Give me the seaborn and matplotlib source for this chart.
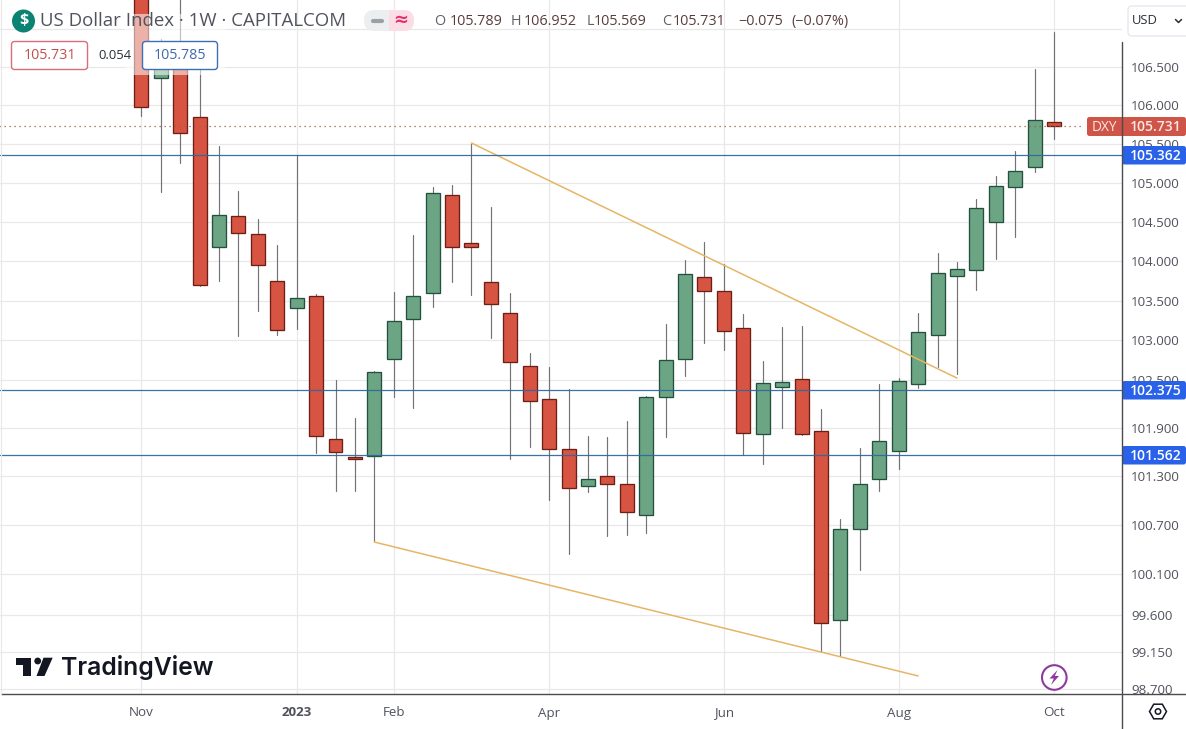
import numpy as np
import pandas as pd
import matplotlib
matplotlib.use("Agg")
import matplotlib.pyplot as plt
from matplotlib.lines import Line2D
from matplotlib.patches import FancyBboxPatch, Polygon, Circle, Rectangle
import seaborn as sns

# weekly candles
opens = [107.60, 106.36, 106.66, 105.848, 104.178, 104.573, 104.344, 103.745, 103.404, 103.556,
         101.759, 101.536, 101.553, 102.761, 103.266, 103.594, 104.843, 104.229, 103.733, 103.341,
         102.673, 102.259, 101.636, 101.178, 101.301, 101.202, 100.820, 102.284, 102.761, 103.796,
         103.619, 103.152, 101.823, 102.410, 102.510, 101.860, 99.533, 100.647, 101.264, 101.611,
         102.447, 103.064, 103.809, 103.885, 104.497, 104.946, 105.202, 105.789]
closes = [105.98, 106.66, 105.645, 103.695, 104.586, 104.356, 103.949, 103.127, 103.530, 101.796,
          101.598, 101.512, 102.598, 103.241, 103.556, 104.868, 104.178, 104.185, 103.455, 102.724,
          102.234, 101.636, 101.153, 101.264, 101.202, 100.857, 102.284, 102.749, 103.834, 103.619,
          103.115, 101.835, 102.460, 102.472, 101.823, 99.496, 100.647, 101.202, 101.735, 102.484,
          103.102, 103.847, 103.898, 104.676, 104.958, 105.151, 105.809, 105.731]
highs = [108.2, 106.87, 107.51, 106.592, 105.477, 104.898, 104.535, 104.207, 105.361, 103.581,
         102.502, 102.021, 102.614, 103.611, 104.335, 104.950, 104.976, 105.499, 104.689, 103.598,
         102.836, 102.664, 102.388, 101.801, 101.789, 101.988, 102.300, 103.207, 104.016, 104.242,
         103.961, 103.329, 102.736, 103.165, 103.177, 102.134, 100.770, 101.648, 102.447, 102.522,
         103.341, 104.101, 103.987, 104.791, 105.086, 105.408, 106.470, 106.952]
lows = [105.862, 104.89, 105.257, 103.69, 103.753, 103.059, 103.374, 103.072, 103.144, 101.594,
        101.122, 101.122, 100.503, 102.291, 102.154, 103.425, 103.740, 103.576, 103.034, 101.512,
        101.668, 101.012, 100.347, 101.111, 100.568, 100.580, 100.605, 101.793, 102.555, 102.970,
        102.882, 101.565, 101.457, 101.905, 101.82, 99.150, 99.102, 100.151, 101.122, 101.388,
        102.397, 102.668, 102.573, 103.632, 104.033, 104.313, 105.145, 105.569]

# price scale and time axis labels
y_ticks = [107.0, 106.5, 106.0, 105.5, 105.0, 104.5, 104.0, 103.5, 103.0, 102.5, 101.9, 101.3,
           100.7, 100.1, 99.6, 99.15, 98.7]
y_labels = ["", "106.500", "106.000", "105.500", "105.000", "104.500", "104.000", "103.500",
            "103.000", "102.500", "101.900", "101.300", "100.700", "100.100", "99.600", "99.150",
            "98.700"]
x_ticks = [0, 8, 13, 21, 30, 39, 47]
x_labels = ["Nov", "2023", "Feb", "Apr", "Jun", "Aug", "Oct"]

# drawn levels and trend lines
levels = [105.362, 102.375, 101.562]
last_price = 105.731
upper_x = [17, 42]
upper_y = [105.515, 102.525]
lower_x = [12, 40]
lower_y = [100.49, 98.858]

GREEN = "#6ba583"
GREEN_EDGE = "#24513f"
RED = "#d75442"
RED_EDGE = "#6b1f16"
WICK = "#737375"
GRID = "#e8e8e8"
TEXT = "#50535e"
BLUE_LINE = "#2f6a9f"
TREND = "#e6b566"
AXIS = "#4a4a4f"
TAG_BLUE = "#2962e8"
TAG_RED = "#cf5548"

sns.set_theme(style="white")
plt.rcParams["font.family"] = ["Open Sans", "DejaVu Sans"]

df = pd.DataFrame({"open": opens, "close": closes, "high": highs, "low": lows})
df["week"] = range(len(df))
df["bottom"] = df[["open", "close"]].min(axis=1)
df["height"] = (df["close"] - df["open"]).abs()
up = df[df["close"] >= df["open"]]
down = df[df["close"] < df["open"]]
wicks = df.melt(id_vars="week", value_vars=["high", "low"], value_name="price")

fig = plt.figure(figsize=(11.86, 7.29), dpi=100)
ax = fig.add_axes([0, 35 / 729, 1122 / 1186, 694 / 729])

sns.lineplot(data=wicks, x="week", y="price", units="week", estimator=None, color=WICK,
             linewidth=0.85, ax=ax, zorder=2, legend=False)
sns.barplot(data=up, x="week", y="height", bottom=up["bottom"].values, native_scale=True, width=0.72,
            color=GREEN, saturation=1, edgecolor=GREEN_EDGE, linewidth=0.95, errorbar=None, ax=ax, zorder=3)
sns.barplot(data=down, x="week", y="height", bottom=down["bottom"].values, native_scale=True, width=0.72,
            color=RED, saturation=1, edgecolor=RED_EDGE, linewidth=0.95, errorbar=None, ax=ax, zorder=3)
sns.lineplot(x=upper_x, y=upper_y, color=TREND, linewidth=1.1, ax=ax, zorder=5)
sns.lineplot(x=lower_x, y=lower_y, color=TREND, linewidth=1.1, ax=ax, zorder=5)

for level in levels:
    ax.axhline(level, color=BLUE_LINE, linewidth=0.9, alpha=0.95, zorder=6)
ax.plot([-8, 48.5], [last_price, last_price], color="#9a5a42", linewidth=0.9, linestyle=(0, (1, 3)), zorder=6)

ax.set_yscale("log")
ax.set_xlim(-7.276, 50.499)
ax.set_ylim(98.64, 107.376)
ax.minorticks_off()
ax.yaxis.tick_right()
ax.set_yticks(y_ticks)
ax.set_yticklabels(y_labels)
ax.yaxis.set_minor_locator(matplotlib.ticker.NullLocator())
ax.set_xticks(x_ticks)
ax.set_xticklabels(x_labels)
ax.set_xlabel("")
ax.set_ylabel("")
ax.grid(True, color=GRID, linewidth=0.85)
ax.set_axisbelow(True)
ax.tick_params(axis="y", length=0, pad=6.6, labelsize=9.6, labelcolor=TEXT)
ax.tick_params(axis="x", length=0, pad=9, labelsize=9.6, labelcolor=TEXT)
ax.get_xticklabels()[1].set_fontweight("bold")
for side in ax.spines:
    ax.spines[side].set_visible(False)
for lab in ax.get_yticklabels() + ax.get_xticklabels():
    lab.set_clip_on(False)

# everything around the plot sits on a pixel overlay
ov = fig.add_axes([0, 0, 1, 1], zorder=10)
ov.set_xlim(0, 1186)
ov.set_ylim(729, 0)
ov.axis("off")
ov.patch.set_alpha(0)

ov.add_line(Line2D([1122, 1122], [42, 729], color=AXIS, linewidth=1.0))
ov.add_line(Line2D([1, 1186], [694, 694], color=AXIS, linewidth=1.0))
ov.add_line(Line2D([0.5, 0.5], [0, 694], color=GRID, linewidth=0.85))

# header strip washes out what lies beneath it
ov.add_patch(Rectangle((125, 14), 100, 61, facecolor="white", alpha=0.55, edgecolor="none"))
ov.add_patch(Circle((23.5, 21), 11.5, facecolor="#0b8272", edgecolor="none"))
ov.text(23.5, 21, "$", color="white", fontsize=11.5, fontweight="bold", ha="center", va="center")
ov.text(40, 21, "US Dollar Index · 1W · CAPITALCOM", color=TEXT, fontsize=13.4, va="center", ha="left")

ov.add_patch(FancyBboxPatch((364, 10), 26, 21, boxstyle="round,pad=0,rounding_size=10", facecolor="#eceef0",
                            edgecolor="none"))
ov.add_patch(Rectangle((378, 10), 12, 21, facecolor="#eceef0", edgecolor="none"))
ov.add_patch(FancyBboxPatch((390, 10), 24, 21, boxstyle="round,pad=0,rounding_size=10", facecolor="#fbdde6",
                            edgecolor="none"))
ov.add_patch(Rectangle((389, 10), 8, 21, facecolor="#fbdde6", edgecolor="none"))
ov.add_line(Line2D([373, 382], [20.5, 20.5], color="#9aa0a8", linewidth=3, solid_capstyle="round"))
ov.text(401, 20, "≈", color="#e0306f", fontsize=13, ha="center", va="center", family="DejaVu Sans", fontweight="bold")

OHLC_GREY = "#5f6068"
OHLC_VAL = "#5a3c3c"
for x, s, c in [(434, "O", OHLC_GREY), (450, "105.789", OHLC_VAL), (511, "H", OHLC_GREY), (524, "106.952", OHLC_VAL),
                (587, "L", OHLC_GREY), (594, "105.569", OHLC_VAL), (662, "C", OHLC_GREY), (673, "105.731", OHLC_VAL),
                (738, "−0.075", OHLC_VAL), (791, "(−0.07%)", OHLC_VAL)]:
    ov.text(x, 21, s, color=c, fontsize=10.4, va="center", ha="left")

# the two price boxes under the title
ov.add_patch(FancyBboxPatch((11.5, 41.5), 76, 28, boxstyle="round,pad=0,rounding_size=3", facecolor="white",
                            edgecolor="#d6707a", linewidth=1))
ov.text(49.5, 55.5, "105.731", color="#c0504d", fontsize=10.3, ha="center", va="center")
ov.text(115, 55.5, "0.054", color="#2a2e39", fontsize=9.4, ha="center", va="center")
ov.add_patch(FancyBboxPatch((142.5, 41.5), 75, 28, boxstyle="round,pad=0,rounding_size=3", facecolor="white",
                            edgecolor="#3f6fb5", linewidth=1))
ov.text(180, 55.5, "105.785", color="#3f68b0", fontsize=10.3, ha="center", va="center")

# currency button
ov.add_patch(FancyBboxPatch((1128, 6), 62, 30, boxstyle="round,pad=0,rounding_size=4", facecolor="white",
                            edgecolor="#e6e8ee", linewidth=1))
ov.text(1132, 20.5, "USD", color="#2a2e39", fontsize=9.4, va="center", ha="left")
ov.add_line(Line2D([1175.5, 1178.5, 1181.5], [19.5, 22.5, 19.5], color="#2a2e39", linewidth=1.1))

# price tags on the scale
for level, top in zip(levels, [146, 381, 446]):
    ov.add_patch(FancyBboxPatch((1122, top), 64, 18.5, boxstyle="round,pad=0,rounding_size=2.5",
                                facecolor=TAG_BLUE, edgecolor="none"))
    ov.text(1155.5, top + 9.5, f"{level:.3f}", color="white", fontsize=10, fontweight="semibold",
            ha="center", va="center")
ov.add_patch(FancyBboxPatch((1087, 117), 99, 19, boxstyle="round,pad=0,rounding_size=2.5", facecolor=TAG_RED,
                            edgecolor="none"))
ov.text(1092, 127, "DXY", color="#fbe9e6", fontsize=9.8, ha="left", va="center")
ov.text(1155.5, 127, f"{last_price:.3f}", color="#fbe9e6", fontsize=10, fontweight="semibold", ha="center", va="center")

# TradingView logo
LOGO = "#131722"
ov.add_patch(Polygon([(16, 657.7), (30.7, 657.7), (30.7, 676), (22.7, 676), (22.7, 664.5), (16, 664.5)],
                     facecolor=LOGO, edgecolor="none"))
ov.add_patch(Circle((37.7, 661), 3.4, facecolor=LOGO, edgecolor="none"))
ov.add_patch(Polygon([(43.5, 657.7), (52.7, 657.7), (44.5, 676), (36.5, 676)], facecolor=LOGO, edgecolor="none"))
ov.text(61.5, 668, "TradingView", color=LOGO, fontsize=17.8, fontweight="semibold", family="Inter",
        ha="left", va="center")

# lightning badge
PURPLE = "#8e3a9d"
ov.add_patch(Circle((1054.3, 677.5), 12.3, facecolor="white", edgecolor=PURPLE, linewidth=1.5))
ov.add_patch(Polygon([(1057.5, 670), (1049.5, 678.5), (1053.8, 678.5), (1051, 685), (1059, 676), (1054.8, 676)],
                     facecolor=PURPLE, edgecolor="none"))

# settings hexagon
ov.add_patch(Polygon([(1149.5, 711.5), (1153.7, 704.2), (1162.3, 704.2), (1166.5, 711.5), (1162.3, 718.8), (1153.7, 718.8)],
                     facecolor="white", edgecolor="#131722", linewidth=1.1))
ov.add_patch(Circle((1158, 711.5), 2.7, facecolor="white", edgecolor="#131722", linewidth=1.1))

fig.savefig("out.png", dpi=100)
